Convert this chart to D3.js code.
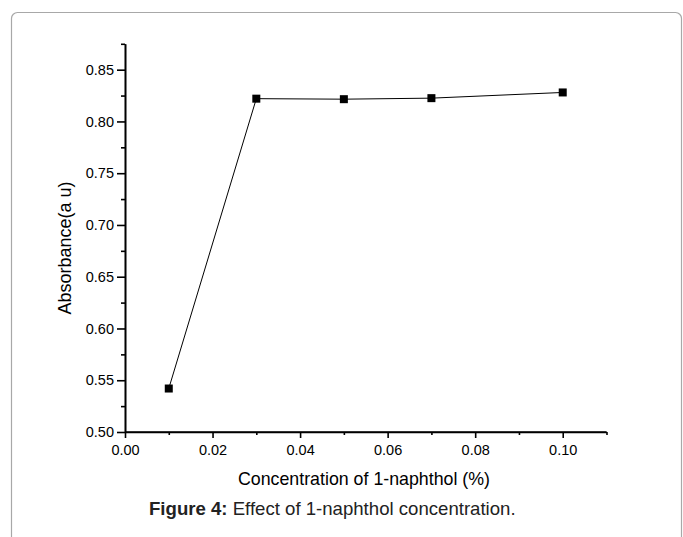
<html>
<head>
<script src="https://d3js.org/d3.v7.min.js"></script>
<style>
  body { margin: 0; background: #fff; font-family: 'Liberation Sans', Arial, sans-serif; }
  .frame { fill: none; stroke: #a8a8a8; stroke-width: 1.2px; }
  .axis path, .axis line { stroke: #000; stroke-width: 1.6px; }
  .axis text { font-size: 14.5px; fill: #000; font-family: 'Liberation Sans', Arial, sans-serif; }
  .line { fill: none; stroke: #000; stroke-width: 1px; }
</style>
</head>
<body>
<div id="chart"></div>
<script>
// data
const concentration = [0.01, 0.03, 0.05, 0.07, 0.10]
const absorbance = [0.542, 0.822, 0.8215, 0.8225, 0.828]
const xTicks = [0.00, 0.02, 0.04, 0.06, 0.08, 0.10]
const yTicks = [0.50, 0.55, 0.60, 0.65, 0.70, 0.75, 0.80, 0.85]

const W = 683, H = 537
const svg = d3.select('#chart').append('svg')
  .attr('width', W).attr('height', H)

// rounded page frame
svg.append('rect')
  .attr('class', 'frame')
  .attr('x', 11.5).attr('y', 12.5)
  .attr('width', 670).attr('height', 560)
  .attr('rx', 6)

const x = d3.scaleLinear().domain([0, 0.11]).range([125, 606.5])
const y = d3.scaleLinear().domain([0.5, 0.875]).range([432, 43.8])

// minor ticks first, then major
svg.append('g')
  .attr('class', 'axis')
  .attr('transform', 'translate(0,432)')
  .call(d3.axisBottom(x).tickValues(d3.range(0.01, 0.111, 0.02)).tickSize(3).tickFormat('').tickSizeOuter(0))
svg.append('g')
  .attr('class', 'axis')
  .attr('transform', 'translate(0,432)')
  .call(d3.axisBottom(x).tickValues(xTicks).tickSize(6).tickPadding(7).tickFormat(d3.format('.2f')).tickSizeOuter(0))
  .select('.domain').attr('d', `M${x(0)},0H${x(0.11)}`)

svg.append('g')
  .attr('class', 'axis')
  .attr('transform', 'translate(125,0)')
  .call(d3.axisLeft(y).tickValues(d3.range(0.525, 0.876, 0.05)).tickSize(4).tickFormat('').tickSizeOuter(0))
svg.append('g')
  .attr('class', 'axis')
  .attr('transform', 'translate(125,0)')
  .call(d3.axisLeft(y).tickValues(yTicks).tickSize(8).tickPadding(3).tickFormat(d3.format('.2f')).tickSizeOuter(0))

const pts = concentration.map((c, i) => ({c: c, a: absorbance[i]}))

svg.append('path')
  .datum(pts)
  .attr('class', 'line')
  .attr('d', d3.line().x(d => x(d.c)).y(d => y(d.a)))

svg.selectAll('.pt')
  .data(pts)
  .enter().append('rect')
  .attr('class', 'pt')
  .attr('x', d => x(d.c) - 4)
  .attr('y', d => y(d.a) - 4)
  .attr('width', 8).attr('height', 8)
  .attr('fill', '#000')

// axis titles
svg.append('text')
  .attr('x', 364).attr('y', 485)
  .attr('text-anchor', 'middle')
  .style('font-size', '17.8px')
  .text('Concentration of 1-naphthol (%)')

svg.append('text')
  .attr('transform', 'translate(71,248) rotate(-90)')
  .attr('text-anchor', 'middle')
  .style('font-size', '18px')
  .text('Absorbance(a u)')

// caption
const cap = svg.append('text')
  .attr('x', 149).attr('y', 515)
  .style('font-size', '18.6px')
  .attr('fill', '#222')
cap.append('tspan').attr('font-weight', 'bold').text('Figure 4:')
cap.append('tspan').text(' Effect of 1-naphthol concentration.')
</script>
</body>
</html>
